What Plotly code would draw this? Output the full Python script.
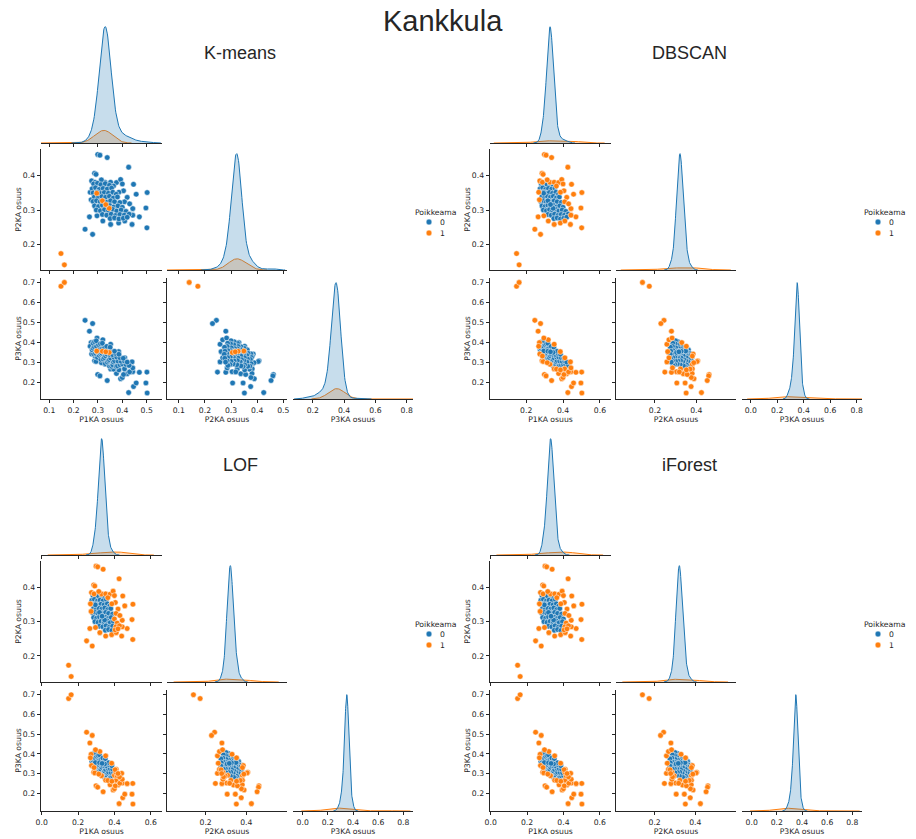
import numpy as np
import plotly.graph_objects as go

# ---------------------------------------------------------------------------
# Phase shares at Kankkula (P1KA, P2KA, P3KA); one entry per distinct point,
# `count` = number of identical records at that point.
# ---------------------------------------------------------------------------
p1 = [
    # scattered measurements
    0.148, 0.162, 0.299, 0.308, 0.338, 0.426, 0.286, 0.292, 0.274, 0.288,
    0.329, 0.352, 0.376, 0.393, 0.400, 0.446, 0.457, 0.502, 0.420, 0.405,
    0.409, 0.443, 0.497, 0.501, 0.470, 0.440, 0.385, 0.352, 0.265, 0.247,
    0.278, 0.314, 0.364, 0.386, 0.430, 0.410, 0.320, 0.296, 0.272, 0.268,
    0.443,
    # dense core
    0.282, 0.298, 0.312, 0.330, 0.347,
    0.276, 0.290, 0.305, 0.321, 0.338, 0.356,
    0.280, 0.296, 0.311, 0.326, 0.343, 0.361, 0.375,
    0.285, 0.300, 0.316, 0.331, 0.347, 0.363, 0.380,
    0.280, 0.294, 0.309, 0.323, 0.337, 0.352, 0.368, 0.390,
    0.286, 0.302, 0.318, 0.333, 0.349, 0.365, 0.382, 0.400,
    0.293, 0.310, 0.327, 0.343, 0.360, 0.377, 0.395, 0.415,
    0.318, 0.336, 0.354, 0.372, 0.390, 0.408, 0.428,
    0.350, 0.368, 0.386, 0.404, 0.420,
    0.295, 0.318, 0.346, 0.332,
]
p2 = [
    0.173, 0.140, 0.462, 0.460, 0.453, 0.425, 0.407, 0.404, 0.385, 0.381,
    0.381, 0.381, 0.380, 0.389, 0.376, 0.375, 0.346, 0.351, 0.337, 0.356,
    0.324, 0.304, 0.306, 0.248, 0.280, 0.258, 0.262, 0.258, 0.280, 0.244,
    0.229, 0.388, 0.370, 0.352, 0.318, 0.268, 0.268, 0.283, 0.330, 0.352,
    0.285,
    0.376, 0.378, 0.374, 0.377, 0.372,
    0.362, 0.365, 0.360, 0.363, 0.361, 0.364,
    0.350, 0.352, 0.348, 0.351, 0.349, 0.352, 0.346,
    0.338, 0.336, 0.339, 0.337, 0.340, 0.335, 0.338,
    0.325, 0.327, 0.324, 0.326, 0.323, 0.327, 0.324, 0.322,
    0.312, 0.310, 0.314, 0.311, 0.313, 0.309, 0.312, 0.308,
    0.300, 0.298, 0.301, 0.299, 0.302, 0.297, 0.300, 0.296,
    0.287, 0.285, 0.288, 0.284, 0.287, 0.285, 0.288,
    0.275, 0.277, 0.274, 0.276, 0.279,
    0.349, 0.327, 0.305, 0.316,
]
p3 = [
    0.679, 0.698, 0.239, 0.232, 0.209, 0.149, 0.307, 0.304, 0.341, 0.331,
    0.290, 0.267, 0.244, 0.218, 0.224, 0.179, 0.197, 0.147, 0.243, 0.239,
    0.267, 0.253, 0.197, 0.251, 0.250, 0.302, 0.353, 0.390, 0.455, 0.509,
    0.493, 0.298, 0.266, 0.262, 0.252, 0.322, 0.412, 0.421, 0.398, 0.380,
    0.272,
    0.342, 0.324, 0.314, 0.293, 0.281,
    0.362, 0.345, 0.335, 0.316, 0.301, 0.280,
    0.370, 0.352, 0.341, 0.323, 0.308, 0.287, 0.279,
    0.377, 0.364, 0.345, 0.332, 0.313, 0.302, 0.282,
    0.395, 0.379, 0.367, 0.351, 0.340, 0.321, 0.308, 0.288,
    0.402, 0.388, 0.368, 0.356, 0.338, 0.326, 0.306, 0.292,
    0.407, 0.392, 0.372, 0.358, 0.338, 0.326, 0.305, 0.289,
    0.395, 0.379, 0.358, 0.344, 0.323, 0.307, 0.284,
    0.375, 0.355, 0.340, 0.320, 0.301,
    0.356, 0.355, 0.349, 0.352,
]
count = [
    1, 1, 1, 1, 1, 1, 1, 1, 1, 1,
    1, 1, 1, 1, 1, 1, 1, 1, 1, 1,
    1, 1, 1, 1, 1, 1, 1, 1, 1, 1,
    1, 1, 1, 1, 1, 1, 1, 1, 1, 1,
    1,
    1, 1, 1, 1, 1,
    1, 1, 1, 1, 1, 1,
    1, 1, 4, 4, 4, 1, 1,
    1, 4, 18, 18, 4, 4, 1,
    1, 4, 18, 45, 45, 18, 4, 1,
    1, 4, 18, 45, 18, 4, 1, 1,
    1, 4, 18, 4, 4, 1, 1, 1,
    4, 4, 1, 1, 1, 1, 1,
    1, 1, 1, 1, 1,
    14, 14, 14, 14,
]

# Anomaly flag ("Poikkeama") given by each method
kmeans = [
    1, 1, 0, 0, 0, 0, 0, 0, 0, 0,
    0, 0, 0, 0, 0, 0, 0, 0, 0, 0,
    0, 0, 0, 0, 0, 0, 0, 0, 0, 0,
    0, 0, 0, 0, 0, 0, 0, 0, 0, 0,
    0,
    0, 0, 0, 0, 0,
    0, 0, 0, 0, 0, 0,
    0, 0, 0, 0, 0, 0, 0,
    0, 0, 0, 0, 0, 0, 0,
    0, 0, 0, 0, 0, 0, 0, 0,
    0, 0, 0, 0, 0, 0, 0, 0,
    0, 0, 0, 0, 0, 0, 0, 0,
    0, 0, 0, 0, 0, 0, 0,
    0, 0, 0, 0, 0,
    1, 1, 1, 1,
]
dbscan = [
    1, 1, 1, 1, 1, 1, 1, 1, 1, 1,
    1, 1, 1, 1, 1, 1, 1, 1, 1, 1,
    1, 1, 1, 1, 1, 1, 1, 1, 1, 1,
    1, 1, 1, 1, 1, 1, 1, 1, 1, 1,
    1,
    0, 0, 0, 0, 0,
    0, 0, 0, 0, 0, 0,
    0, 0, 0, 0, 0, 0, 0,
    0, 0, 0, 0, 0, 0, 0,
    0, 0, 0, 0, 0, 0, 0, 0,
    0, 0, 0, 0, 0, 0, 0, 0,
    0, 0, 0, 0, 0, 0, 0, 0,
    0, 0, 0, 0, 0, 0, 0,
    0, 0, 0, 0, 0,
    0, 0, 0, 0,
]
lof = [
    1, 1, 1, 1, 1, 1, 1, 1, 1, 1,
    1, 1, 1, 1, 1, 1, 1, 1, 1, 1,
    1, 1, 1, 1, 1, 1, 1, 1, 1, 1,
    1, 1, 1, 1, 1, 1, 1, 1, 1, 1,
    1,
    0, 0, 0, 0, 0,
    0, 0, 0, 0, 0, 0,
    0, 0, 0, 0, 0, 0, 0,
    0, 0, 0, 0, 0, 0, 0,
    0, 0, 0, 0, 0, 0, 0, 0,
    0, 0, 0, 0, 0, 0, 0, 1,
    0, 0, 0, 0, 0, 0, 0, 1,
    0, 0, 0, 0, 0, 1, 1,
    0, 0, 0, 1, 1,
    0, 0, 0, 0,
]
iforest = [
    1, 1, 1, 1, 1, 1, 1, 1, 1, 1,
    1, 1, 1, 1, 1, 1, 1, 1, 1, 1,
    1, 1, 1, 1, 1, 1, 1, 1, 1, 1,
    1, 1, 1, 1, 1, 1, 1, 1, 1, 1,
    1,
    0, 0, 0, 0, 0,
    0, 0, 0, 0, 0, 0,
    0, 0, 0, 0, 0, 0, 0,
    0, 0, 0, 0, 0, 0, 0,
    0, 0, 0, 0, 0, 0, 0, 0,
    0, 0, 0, 0, 0, 0, 0, 0,
    0, 0, 0, 0, 0, 0, 0, 1,
    0, 0, 0, 0, 0, 1, 1,
    0, 0, 0, 1, 1,
    0, 0, 0, 0,
]

var_names = ["P1KA osuus", "P2KA osuus", "P3KA osuus"]
hue_levels = ["0", "1"]

# ---------------------------------------------------------------------------
# Styling
# ---------------------------------------------------------------------------
W, H = 916, 839
BLUE, ORANGE = "#1f77b4", "#ff7f0e"
FILLS = {0: "rgba(31,119,180,0.25)", 1: "rgba(255,127,14,0.25)"}
LINES = {0: BLUE, 1: ORANGE}
INK = "#262626"
TICK_FONT = dict(family="DejaVu Sans", size=7.7, color=INK)
HEAD_FONT = "Liberation Sans, Arial, sans-serif"

# grid cells of one corner pair-plot (kind, x var, y var, left, right, top, bottom px)
CELLS = [
    ("diag", 0, None, 41, 162, 22, 143),
    ("scatter", 0, 1, 41, 162, 149, 270),
    ("diag", 1, None, 167, 287, 149, 270),
    ("scatter", 0, 2, 41, 162, 278, 399),
    ("scatter", 1, 2, 167, 287, 278, 399),
    ("diag", 2, None, 293, 413, 278, 399),
]

TICKS_KM = [[0.1, 0.2, 0.3, 0.4, 0.5], [0.1, 0.2, 0.3, 0.4, 0.5], [0.2, 0.4, 0.6, 0.8]]
TICKS_OT = [[0.0, 0.2, 0.4, 0.6], [0.0, 0.2, 0.4], [0.0, 0.2, 0.4, 0.6, 0.8]]
YTICKS = {1: [0.2, 0.3, 0.4], 2: [0.2, 0.3, 0.4, 0.5, 0.6, 0.7]}

PANELS = [
    dict(name="K-means", labels=kmeans, dx=0, dy=0, xticks=TICKS_KM,
         xr=[[0.066, 0.563], [0.055, 0.514], [0.074, 0.840]],
         yr={1: [0.125, 0.478], 2: [0.117, 0.720]}),
    dict(name="DBSCAN", labels=dbscan, dx=449, dy=0, xticks=TICKS_OT,
         xr=[[0.004, 0.660], [0.012, 0.592], [-0.066, 0.840]],
         yr={1: [0.125, 0.478], 2: [0.117, 0.720]}),
    dict(name="LOF", labels=lof, dx=0, dy=412, xticks=TICKS_OT,
         xr=[[-0.004, 0.662], [0.010, 0.600], [-0.077, 0.877]],
         yr={1: [0.124, 0.477], 2: [0.112, 0.722]}),
    dict(name="iForest", labels=iforest, dx=449, dy=412, xticks=TICKS_OT,
         xr=[[-0.004, 0.662], [0.010, 0.600], [-0.077, 0.877]],
         yr={1: [0.124, 0.477], 2: [0.112, 0.722]}),
]

data = np.array([p1, p2, p3], dtype=float)
weights = np.array(count, dtype=float)


def kde(values, w, total):
    """Weighted Gaussian KDE (Scott bandwidth), scaled by the group's share."""
    wn = w / w.sum()
    mean = np.sum(wn * values)
    var = np.sum(wn * (values - mean) ** 2) / (1.0 - np.sum(wn ** 2))
    neff = 1.0 / np.sum(wn ** 2)
    bw = np.sqrt(var) * neff ** (-0.2)
    grid = np.linspace(values.min() - 3 * bw, values.max() + 3 * bw, 200)
    z = (grid[:, None] - values[None, :]) / bw
    dens = (wn[None, :] * np.exp(-0.5 * z ** 2)).sum(axis=1) / (bw * np.sqrt(2 * np.pi))
    return grid, dens * w.sum() / total


def xdom(a, b):
    return [a / W, b / W]


def ydom(top, bottom):
    return [1 - bottom / H, 1 - top / H]


fig = go.Figure()
layout = {}
annotations = []
shapes = []

axis_base = dict(
    showline=True, linecolor=INK, linewidth=0.8, mirror=False,
    ticks="outside", ticklen=3.5, tickwidth=0.8, tickcolor=INK,
    showgrid=False, zeroline=False, tickfont=TICK_FONT, tickformat=".1f",
    automargin=False, fixedrange=True,
)

for pi, panel in enumerate(PANELS):
    lab = np.array(panel["labels"])
    dx, dy = panel["dx"], panel["dy"]
    for ci, (kind, xv, yv, left, right, top, bottom) in enumerate(CELLS):
        n = pi * 6 + ci + 1
        xa = "x" if n == 1 else f"x{n}"
        ya = "y" if n == 1 else f"y{n}"
        xkey = "xaxis" if n == 1 else f"xaxis{n}"
        ykey = "yaxis" if n == 1 else f"yaxis{n}"

        xax = dict(axis_base, domain=xdom(left + dx, right + dx), anchor=ya,
                   range=panel["xr"][xv], tickvals=panel["xticks"][xv],
                   showticklabels=ci >= 3)
        if ci >= 3:
            xax["title"] = dict(text=var_names[xv], font=TICK_FONT, standoff=2)

        if kind == "diag":
            ymax = 0.0
            total = weights.sum()
            for h in (1, 0):
                m = lab == h
                if not m.any():
                    continue
                gx, gy = kde(data[xv][m], weights[m], total)
                ymax = max(ymax, gy.max())
                fig.add_trace(go.Scatter(
                    x=gx, y=gy, xaxis=xa, yaxis=ya, mode="lines",
                    line=dict(color=LINES[h], width=1), fill="tozeroy",
                    fillcolor=FILLS[h], hoverinfo="skip", showlegend=False))
            yax = dict(visible=False, domain=ydom(top + dy, bottom + dy),
                       anchor=xa, range=[0, ymax * 1.04], fixedrange=True)
        else:
            for h in (0, 1):
                m = lab == h
                fig.add_trace(go.Scatter(
                    x=data[xv][m], y=data[yv][m], xaxis=xa, yaxis=ya,
                    mode="markers", name=hue_levels[h],
                    marker=dict(color=LINES[h], size=5.6,
                                line=dict(color="white", width=0.5)),
                    showlegend=False))
            yax = dict(axis_base, domain=ydom(top + dy, bottom + dy), anchor=xa,
                       range=panel["yr"][yv], tickvals=YTICKS[yv],
                       showticklabels=ci in (1, 3))
            if ci in (1, 3):
                yax["title"] = dict(text=var_names[yv], font=TICK_FONT, standoff=0)
        layout[xkey] = xax
        layout[ykey] = yax

    # panel heading
    annotations.append(dict(
        text=panel["name"], x=(240 + dx) / W, y=1 - (53 + dy) / H,
        xref="paper", yref="paper", showarrow=False, xanchor="center",
        yanchor="middle", font=dict(family=HEAD_FONT, size=18, color=INK)))

    # hue legend
    annotations.append(dict(
        text="Poikkeama", x=(436 + dx) / W, y=1 - (212 + dy) / H,
        xref="paper", yref="paper", showarrow=False, xanchor="center",
        yanchor="middle", font=TICK_FONT))
    for h, cy in ((0, 222), (1, 233)):
        cx = 429 + dx
        r = 2.9
        shapes.append(dict(
            type="circle", xref="paper", yref="paper",
            x0=(cx - r) / W, x1=(cx + r) / W,
            y0=1 - (cy + dy + r) / H, y1=1 - (cy + dy - r) / H,
            fillcolor=LINES[h], line=dict(color="white", width=0.5)))
        annotations.append(dict(
            text=hue_levels[h], x=(438 + dx) / W, y=1 - (cy + dy) / H,
            xref="paper", yref="paper", showarrow=False, xanchor="left",
            yanchor="middle", font=TICK_FONT))

annotations.append(dict(
    text="Kankkula", x=443 / W, y=1 - 21 / H, xref="paper", yref="paper",
    showarrow=False, xanchor="center", yanchor="middle",
    font=dict(family=HEAD_FONT, size=29, color=INK)))

fig.update_layout(
    width=W, height=H, margin=dict(l=0, r=0, t=0, b=0),
    paper_bgcolor="white", plot_bgcolor="white", showlegend=False,
    annotations=annotations, shapes=shapes, **layout)

fig.write_html("out.html")
